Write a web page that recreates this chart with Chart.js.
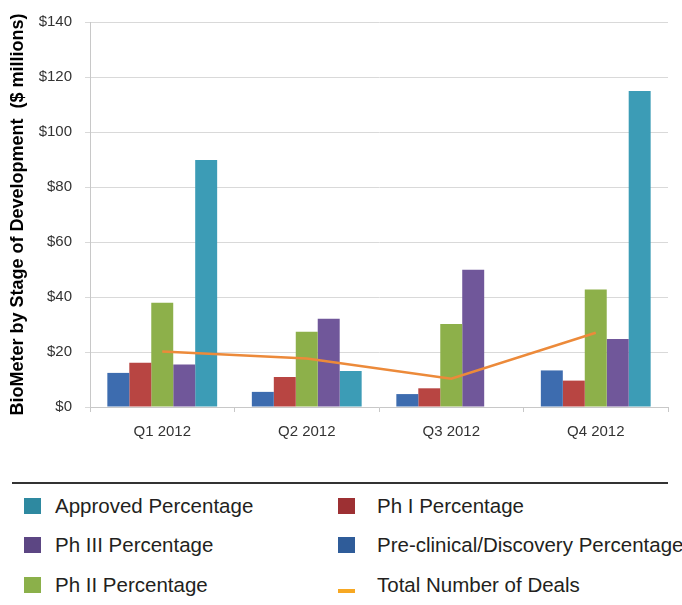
<!DOCTYPE html>
<html lang="en">
<head>
    <meta charset="UTF-8">
    <title>BioMeter by Stage of Development</title>
    <script src="https://cdn.jsdelivr.net/npm/chart.js"></script>
    <style>
        body { margin: 0; background: #fff; }
        #wrap { position: relative; width: 682px; height: 605px; }
        #box { position: absolute; left: 0; top: 0; width: 682px; height: 460px; }
        #rule { position: absolute; left: 12px; top: 482px; width: 656px; height: 2px; background: #333; }
        .item { position: absolute; font-family: "Liberation Sans", Arial, sans-serif; font-size: 20.5px; color: #231f20; line-height: 24px; white-space: nowrap; }
        .sw { position: absolute; width: 17px; height: 16px; }
    </style>
</head>
<body>
<div id="wrap">
    <div id="box"><canvas id="myChart"></canvas></div>
    <div id="rule"></div>
    <div id="legend"></div>
</div>
<script>
    // Data
    const quarters = ['Q1 2012', 'Q2 2012', 'Q3 2012', 'Q4 2012'];
    const preclinical = [12.4, 5.5, 4.7, 13.3];
    const phI = [16.1, 10.9, 6.8, 9.6];
    const phII = [37.9, 27.4, 30.2, 42.7];
    const phIII = [15.5, 32.1, 49.9, 24.7];
    const approved = [89.8, 13.1, null, 114.9];
    const totalDeals = [20.2, 17.6, 10.3, 27.0];
    const yTicks = [0, 20, 40, 60, 80, 100, 120, 140];

    const font = '"Liberation Sans", Arial, sans-serif';

    const ctx = document.getElementById('myChart').getContext('2d');
    const myChart = new Chart(ctx, {
        type: 'bar',
        data: {
            labels: quarters,
            datasets: [
                { label: 'Total Number of Deals', type: 'line', data: totalDeals, borderColor: '#ec8a3a', borderWidth: 2.5, pointRadius: 0, fill: false, order: 0, legendColor: '#f7a823' },
                { label: 'Pre-clinical/Discovery Percentage', data: preclinical, backgroundColor: '#3d6caf', order: 1, legendColor: '#2f5c99' },
                { label: 'Ph I Percentage', data: phI, backgroundColor: '#b84542', order: 1, legendColor: '#9d3033' },
                { label: 'Ph II Percentage', data: phII, backgroundColor: '#8db04a', order: 1, legendColor: '#8bb04a' },
                { label: 'Ph III Percentage', data: phIII, backgroundColor: '#70579a', order: 1, legendColor: '#5c4683' },
                { label: 'Approved Percentage', data: approved, backgroundColor: '#3c9cb6', order: 1, legendColor: '#2e89a0' }
            ]
        },
        options: {
            responsive: true,
            maintainAspectRatio: false,
            animation: false,
            layout: { padding: { left: 0, top: 22, right: 14, bottom: 0 } },
            datasets: { bar: { categoryPercentage: 0.76, barPercentage: 1.0 } },
            plugins: { legend: { display: false }, tooltip: { enabled: false } },
            scales: {
                x: {
                    afterFit: function(s) { s.height = 53; },
                    grid: { offset: true, drawOnChartArea: false, tickLength: 5, color: '#c8c8c8' },
                    border: { color: '#c8c8c8' },
                    ticks: { color: '#333', font: { family: font, size: 15 }, padding: 11 }
                },
                y: {
                    min: 0,
                    max: 140,
                    afterFit: function(s) { s.width = 90; },
                    afterBuildTicks: function(s) { s.ticks = yTicks.map(v => ({ value: v })); },
                    grid: { color: '#d9d9d9', tickLength: 5 },
                    border: { color: '#c8c8c8' },
                    ticks: { color: '#333', font: { family: font, size: 15 }, padding: 13,
                             callback: function(v) { return '$' + v; } },
                    title: {
                        display: true,
                        text: 'BioMeter by Stage of Development  ($ millions)',
                        color: '#000',
                        font: { family: font, size: 18, weight: 'bold' },
                        padding: { top: 7, bottom: 0 }
                    }
                }
            }
        }
    });

    // Legend below the chart, two columns
    const legendOrder = ['Approved Percentage', 'Ph I Percentage', 'Ph III Percentage',
                         'Pre-clinical/Discovery Percentage', 'Ph II Percentage', 'Total Number of Deals'];
    const legendEl = document.getElementById('legend');
    const colX = [24, 338];
    const textX = [55, 377];
    const rowY = [506, 545, 585];
    legendOrder.forEach(function(name, i) {
        const ds = myChart.data.datasets.find(d => d.label === name);
        const col = i % 2, row = Math.floor(i / 2);
        const sw = document.createElement('div');
        sw.className = 'sw';
        sw.style.background = ds.legendColor;
        sw.style.left = colX[col] + 'px';
        if (ds.type === 'line') {
            sw.style.top = (rowY[row] + 4) + 'px';
            sw.style.height = '4px';
        } else {
            sw.style.top = (rowY[row] - 8) + 'px';
        }
        legendEl.appendChild(sw);
        const t = document.createElement('div');
        t.className = 'item';
        t.textContent = ds.label;
        t.style.left = textX[col] + 'px';
        t.style.top = (rowY[row] - 12) + 'px';
        legendEl.appendChild(t);
    });
</script>
</body>
</html>
